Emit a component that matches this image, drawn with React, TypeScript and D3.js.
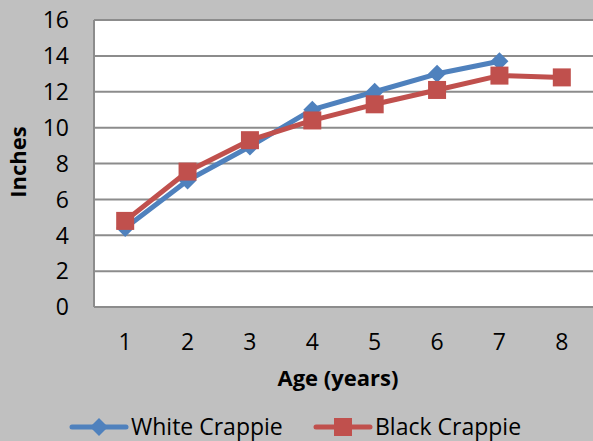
import React from "react";
import * as d3 from "d3";

const ages = [1, 2, 3, 4, 5, 6, 7, 8];
const whiteCrappie = [4.4, 7.05, 8.95, 11.0, 12.0, 13.0, 13.7];
const blackCrappie = [4.8, 7.55, 9.3, 10.4, 11.3, 12.1, 12.9, 12.8];
const yTicks = [0, 2, 4, 6, 8, 10, 12, 14, 16];

const W = 593, H = 441;
const plot = { left: 94, top: 20, right: 593, bottom: 307 };
const FONT = "'Open Sans', 'Liberation Sans', sans-serif";
const BLUE = "#4f81bd";
const RED = "#c0504d";

export default function App() {
  const x = d3.scaleBand<number>().domain(ages).range([plot.left, plot.right]);
  const y = d3.scaleLinear().domain([0, 16]).range([plot.bottom, plot.top]);
  const cx = (a: number) => (x(a) as number) + x.bandwidth() / 2;
  const line = d3.line<number>().x((_, i) => cx(ages[i])).y((v) => y(v));
  const diamond = (px: number, py: number, r: number) =>
    `M${px},${py - r}L${px + r},${py}L${px},${py + r}L${px - r},${py}Z`;

  return (
    <svg width={W} height={H} style={{ position: "absolute", left: 0, top: 0, display: "block" }}>
      <rect x={0} y={0} width={W} height={H} fill="#c0c0c0" />
      <rect x={plot.left} y={plot.top} width={plot.right - plot.left} height={plot.bottom - plot.top} fill="#ffffff" />
      {yTicks.map((t) => (
        <line key={t} x1={plot.left} x2={plot.right} y1={y(t)} y2={y(t)} stroke="#8c8c8c" strokeWidth={2} />
      ))}
      <line x1={plot.left} x2={plot.left} y1={plot.top} y2={plot.bottom} stroke="#8c8c8c" strokeWidth={2} />
      {yTicks.map((t) => (
        <text key={t} x={69} y={y(t)} dy="0.36em" textAnchor="end" fontFamily={FONT} fontSize={23} fill="#000">
          {t}
        </text>
      ))}
      {ages.map((a) => (
        <text key={a} x={cx(a)} y={342} dy="0.36em" textAnchor="middle" fontFamily={FONT} fontSize={23} fill="#000">
          {a}
        </text>
      ))}
      <text x={338} y={378} dy="0.36em" textAnchor="middle" fontFamily={FONT} fontSize={22} fontWeight="bold" fill="#000">
        Age (years)
      </text>
      <text transform={`translate(18,162) rotate(-90)`} dy="0.36em" textAnchor="middle" fontFamily={FONT} fontSize={22} fontWeight="bold" fill="#000">
        Inches
      </text>

      <path d={line(whiteCrappie) || ""} fill="none" stroke={BLUE} strokeWidth={5} strokeLinejoin="round" />
      {whiteCrappie.map((v, i) => (
        <path key={i} d={diamond(cx(ages[i]), y(v), 9)} fill={BLUE} />
      ))}
      <path d={line(blackCrappie) || ""} fill="none" stroke={RED} strokeWidth={5} strokeLinejoin="round" />
      {blackCrappie.map((v, i) => (
        <rect key={i} x={cx(ages[i]) - 9} y={y(v) - 9} width={18} height={18} fill={RED} />
      ))}

      {/* legend */}
      <line x1={72} x2={126} y1={427} y2={427} stroke={BLUE} strokeWidth={5} strokeLinecap="round" />
      <path d={diamond(99, 427, 9)} fill={BLUE} />
      <text x={131} y={427} dy="0.36em" fontFamily={FONT} fontSize={23} fill="#000">White Crappie</text>
      <line x1={316} x2={370} y1={427} y2={427} stroke={RED} strokeWidth={5} strokeLinecap="round" />
      <rect x={334} y={418} width={18} height={18} fill={RED} />
      <text x={375} y={427} dy="0.36em" fontFamily={FONT} fontSize={23} fill="#000">Black Crappie</text>
    </svg>
  );
}
